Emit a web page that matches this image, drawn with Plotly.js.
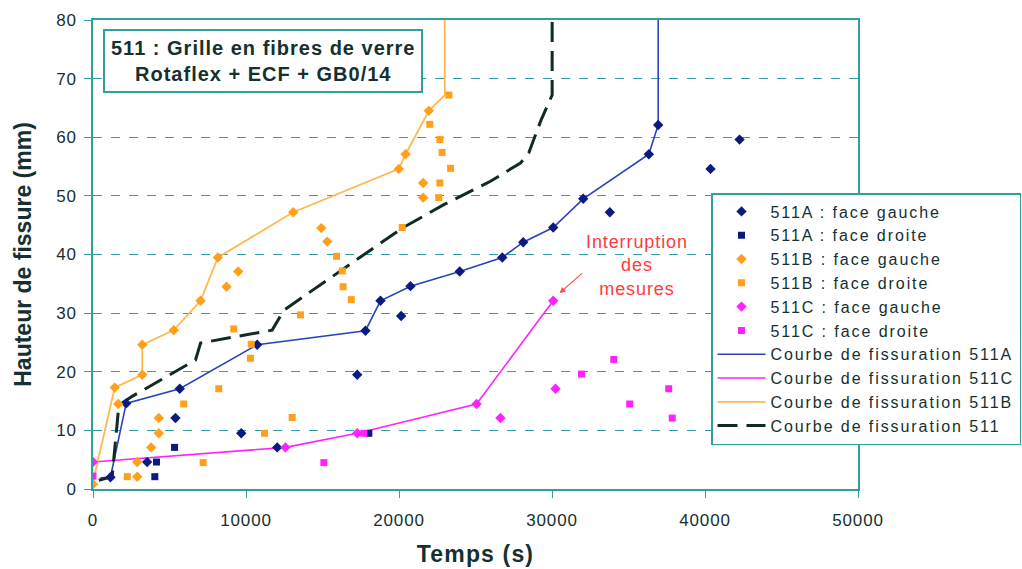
<!DOCTYPE html>
<html><head><meta charset="utf-8">
<script src="https://cdn.plot.ly/plotly-3.0.1.min.js"></script>
<style>
body{margin:0;background:#fff}#c{width:1022px;height:569px}
text{letter-spacing:0.05em}
text.ytitle{letter-spacing:0}
text.legendtext{letter-spacing:0.12em}
</style>
</head><body><div id="c"></div>
<script>
// 511A
const aGaucheX = [1140,2170,5670,10730,17810,18790,20750,23970,26750,28120,30080,32040,36330,36940, 3540,5390,9690,12040,17270,20140,33780,40360,42260];
const aGaucheY = [2.0,14.6,17.1,24.6,27.0,32.1,34.6,37.1,39.5,42.1,44.6,49.5,57.1,62.1, 4.6,12.1,9.5,7.1,19.5,29.5,47.2,54.6,59.6];
const aDroiteX = [4040,4150,5330,18030];
const aDroiteY = [2.1,4.6,7.1,9.5];
// 511B
const bGaucheX = [0,1420,3220,3220,5280,7030,8160,13090,19990,20430,21950, 1650,2890,2890,3800,4300,4300,8730,9490,14920,15310,21580,21580];
const bGaucheY = [0.8,17.3,19.5,24.6,27.1,32.1,39.5,47.2,54.6,57.1,64.5, 14.5,2.1,4.6,7.1,9.5,12.1,34.5,37.1,44.5,42.2,52.2,49.7];
const bDroiteX = [2240,7200,11210,13020,5930,8220,10290,10340,9200,13560,16880,16350,16290,15920,20210,22600,22670,23370,22820,22670,22010,23260];
const bDroiteY = [2.1,4.5,9.5,12.2,14.5,17.1,22.3,24.7,27.3,29.7,32.3,34.5,37.2,39.7,44.6,49.7,52.2,54.7,57.4,59.6,62.2,67.2];
// 511C
const cGaucheX = [0,12580,17270,25070,26630,30230,30080];
const cGaucheY = [4.6,7.1,9.5,14.5,12.1,17.1,32.1];
const cDroiteX = [0,15090,17700,31930,34040,35080,37630,37860];
const cDroiteY = [2.2,4.5,9.5,19.6,22.1,14.5,17.1,12.1];
// Courbes de fissuration
const courbeAX = [490,1140,2170,5670,10730,17810,18790,20750,23970,26750,28120,30080,32040,36330,36940,36940];
const courbeAY = [1.9,2.0,14.6,17.1,24.6,27.0,32.1,34.6,37.1,39.5,42.1,44.6,49.5,57.1,62.1,80];
const courbeCX = [0,12580,17270,25070,30080];
const courbeCY = [4.6,7.1,9.5,14.5,32.1];
const courbeBX = [0,1420,3220,3220,5280,7030,8160,13090,19990,20430,21950,22990,22990];
const courbeBY = [1.2,17.3,19.5,24.6,27.1,32.1,39.5,47.2,54.6,57.1,64.5,67.2,80];
const courbeX = [380,1250,1690,2560,6700,7030,11710,12470,20210,22930,25980,27940,28480,29250,30010,30010];
const courbeY = [1.5,2.1,14.3,15.8,22.0,24.9,27.1,30.5,44.5,48.5,52.5,55.6,57.3,62.7,67.2,80];
const xTicks = [0,10000,20000,30000,40000,50000];
const yTicks = [0,10,20,30,40,50,60,70,80];

const navy = '#0a1a80', blue = '#2a44b8', orange = '#ff9f1a', orangeL = '#ffb84d', mag = '#ff22ff', teal = '#2fa0a0';
function pts(x, y, name, color, sym) {
  return {x, y, name, type: 'scatter', mode: 'markers', marker: {color, symbol: sym, size: sym === 'square' ? 7 : 8}};
}
function line(x, y, name, color, w, dash) {
  return {x, y, name, type: 'scatter', mode: 'lines', line: {color, width: w, dash: dash || 'solid'}};
}
const traces = [
  line(courbeAX, courbeAY, 'Courbe de fissuration 511A', blue, 1.6),
  line(courbeCX, courbeCY, 'Courbe de fissuration 511C', mag, 1.6),
  line(courbeBX, courbeBY, 'Courbe de fissuration 511B', orangeL, 1.8),
  line(courbeX, courbeY, 'Courbe de fissuration 511', '#102a24', 3, '20px,9px'),
  pts(aGaucheX, aGaucheY, '511A : face gauche', navy, 'diamond'),
  pts(aDroiteX, aDroiteY, '511A : face droite', navy, 'square'),
  pts(bGaucheX, bGaucheY, '511B : face gauche', orange, 'diamond'),
  pts(bDroiteX, bDroiteY, '511B : face droite', orange, 'square'),
  pts(cGaucheX, cGaucheY, '511C : face gauche', mag, 'diamond'),
  pts(cDroiteX, cDroiteY, '511C : face droite', mag, 'square'),
];
const order = [4,5,6,7,8,9,0,1,2,3];
order.forEach((i, k) => traces[i].legendrank = k + 1);

const font = {family: 'Liberation Sans, Arial, sans-serif', color: '#143030', size: 17};
const layout = {
  width: 1022, height: 569,
  margin: {l: 93, r: 164, t: 20, b: 80, autoexpand: false},
  paper_bgcolor: '#fff', plot_bgcolor: '#fff',
  font,
  showlegend: true,
  legend: {xref: 'container', yref: 'container', x: 711 / 1022, y: 1 - 193 / 569, xanchor: 'left', yanchor: 'top',
    bgcolor: '#fff', bordercolor: teal, borderwidth: 1.5,
    font: {family: font.family, size: 16, color: '#143030'}, itemwidth: 48, tracegroupgap: 0},
  xaxis: {range: [0, 50000], tickvals: xTicks, ticktext: xTicks.map(String), showgrid: false, zeroline: false,
    showline: true, linecolor: teal, linewidth: 1.5, mirror: true, ticks: 'outside', ticklen: 7, tickcolor: teal,
    ticklabelstandoff: 8, tickfont: {size: 17},
    title: {text: '<b>Temps (s)</b>', font: {size: 23}, standoff: 17}},
  yaxis: {range: [0, 80], tickvals: yTicks, showgrid: true, gridcolor: teal, griddash: 'dash', gridwidth: 1,
    zeroline: false, showline: true, linecolor: teal, linewidth: 1.5, mirror: true, ticks: 'outside', ticklen: 7,
    tickcolor: teal, ticklabelstandoff: 4, tickfont: {size: 17},
    title: {text: '<b>Hauteur de fissure (mm)</b>', font: {size: 23}, standoff: 18}},
  annotations: [
    {xref: 'paper', yref: 'paper', x: 0.222, y: 0.9126, xanchor: 'center', yanchor: 'middle', showarrow: false,
     text: '<b>511 : Grille en fibres de verre</b><br><b>Rotaflex + ECF + GB0/14</b>',
     font: {size: 20, color: '#143030'}, bordercolor: teal, borderwidth: 2, borderpad: 6, bgcolor: '#fff'},
    {x: 35570, y: 38.05, xref: 'x', yref: 'y', xanchor: 'center', yanchor: 'middle', showarrow: false,
     text: 'Interruption<br>des<br>mesures', font: {size: 18, color: '#ff3b3b'}},
    {x: 30490, y: 33.4, xref: 'x', yref: 'y', ax: 32060, ay: 37.0, axref: 'x', ayref: 'y', text: '',
     showarrow: true, arrowhead: 2, arrowsize: 1, arrowwidth: 1.2, arrowcolor: '#ff5050'}
  ]
};
Plotly.newPlot('c', traces, layout, {displayModeBar: false});
</script></body></html>
